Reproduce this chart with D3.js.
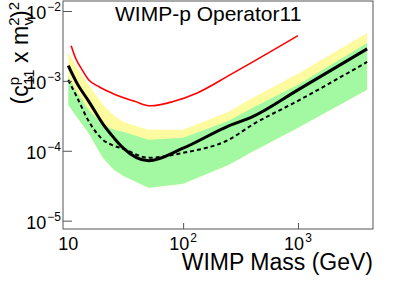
<!DOCTYPE html>
<html>
<head>
<meta charset="utf-8">
<script src="https://cdn.jsdelivr.net/npm/d3@7"></script>
<style>
  body { margin: 0; background: #fff; }
  text { font-family: "Liberation Sans", Arial, sans-serif; fill: #000; }
</style>
</head>
<body>
<script>
// WIMP masses (GeV) for the limit curves
var massPts = [10, 12, 15, 20, 25, 30, 50, 100, 250, 400, 1000, 4000];
// observed limit (solid black)
var observed = [1.65e-3, 9.06e-4, 5.18e-4, 2.43e-4, 1.53e-4, 1.10e-4, 7.2e-5, 1.09e-4, 2.28e-4, 3.06e-4, 7.44e-4, 2.87e-3];
// expected limit (dashed)
var expected = [1.03e-3, 5.71e-4, 2.68e-4, 1.44e-4, 1.18e-4, 1.07e-4, 7.94e-5, 9.36e-5, 1.44e-4, 2.35e-4, 5.18e-4, 1.87e-3];
// 1 sigma band
var sigma1Lo = [4.54e-4, 2.96e-4, 1.81e-4, 7.94e-5, 5.35e-5, 4.40e-5, 2.96e-5, 3.38e-5, 6.31e-5, 9.68e-5, 2.13e-4, 7.44e-4];
var sigma1Hi = [1.14e-3, 6.74e-4, 3.85e-4, 2.35e-4, 2.0e-4, 1.87e-4, 1.44e-4, 1.53e-4, 2.68e-4, 4.11e-4, 8.77e-4, 3.49e-3];
// 2 sigma band upper edge
var sigma2Hi = [2.60e-3, 1.53e-3, 8.77e-4, 4.54e-4, 3.16e-4, 2.60e-4, 2.0e-4, 2.0e-4, 3.61e-4, 5.71e-4, 1.26e-3, 4.85e-3];
// other experiment (red)
var redMass = [10.6, 11.6, 13.2, 15.1, 18.4, 24.1, 38.4, 51.8, 81.9, 131, 256, 1000];
var redLimit = [3.19e-3, 2.11e-3, 1.44e-3, 1.03e-3, 8.30e-4, 6.67e-4, 5.06e-4, 4.40e-4, 5.06e-4, 6.67e-4, 1.22e-3, 4.44e-3];

// tick labels
var yMajor = [1e-5, 1e-4, 1e-3, 1e-2];
var yExp = ["\u22125", "\u22124", "\u22123", "\u22122"];
var xMajor = [10, 100, 1000];
var xExp = ["", "2", "3"];

var w = 415, h = 281;
var frameL = 63, frameR = 373, frameT = 1, frameB = 229;

var svg = d3.select("body").append("svg")
    .attr("width", w)
    .attr("height", h);

var x = d3.scaleLog().domain([9, 4500]).range([frameL, frameR]);
var y = d3.scaleLog().domain([7.6e-6, 1.39e-2]).range([frameB, frameT]);

svg.append("clipPath").attr("id", "frame")
  .append("rect")
    .attr("x", frameL).attr("y", frameT)
    .attr("width", frameR - frameL).attr("height", frameB - frameT);

var plot = svg.append("g").attr("clip-path", "url(#frame)");

var idx = d3.range(massPts.length);

// yellow band
plot.append("path")
    .datum(idx)
    .attr("fill", "#fdfa9f")
    .attr("d", d3.area()
        .x(function(i) { return x(massPts[i]); })
        .y0(function(i) { return y(sigma1Lo[i]); })
        .y1(function(i) { return y(sigma2Hi[i]); }));

// green band
plot.append("path")
    .datum(idx)
    .attr("fill", "#a2f9a2")
    .attr("d", d3.area()
        .x(function(i) { return x(massPts[i]); })
        .y0(function(i) { return y(sigma1Lo[i]); })
        .y1(function(i) { return y(sigma1Hi[i]); }));

// red curve
plot.append("path")
    .datum(d3.range(redMass.length))
    .attr("fill", "none")
    .attr("stroke", "#ff0000")
    .attr("stroke-width", 1.6)
    .attr("d", d3.line()
        .curve(d3.curveMonotoneX)
        .x(function(i) { return x(redMass[i]); })
        .y(function(i) { return y(redLimit[i]); }));

// expected (dashed)
plot.append("path")
    .datum(idx)
    .attr("fill", "none")
    .attr("stroke", "#000")
    .attr("stroke-width", 2)
    .attr("stroke-dasharray", "4,3")
    .attr("d", d3.line()
        .curve(d3.curveMonotoneX)
        .x(function(i) { return x(massPts[i]); })
        .y(function(i) { return y(expected[i]); }));

// observed (solid)
plot.append("path")
    .datum(idx)
    .attr("fill", "none")
    .attr("stroke", "#000")
    .attr("stroke-width", 3)
    .attr("d", d3.line()
        .curve(d3.curveMonotoneX)
        .x(function(i) { return x(massPts[i]); })
        .y(function(i) { return y(observed[i]); }));

// frame
svg.append("rect")
    .attr("x", frameL).attr("y", frameT)
    .attr("width", frameR - frameL).attr("height", frameB - frameT)
    .attr("fill", "none")
    .attr("stroke", "#555")
    .attr("stroke-width", 1);

// y ticks (inside, ROOT style)
var yMinor = y.ticks().filter(function(v) { return yMajor.indexOf(v) < 0; });
var gy = svg.append("g").attr("transform", "translate(" + frameL + ",0)");
gy.call(d3.axisRight(y).tickValues(yMinor).tickSize(5).tickFormat(""));
gy.call(d3.axisRight(y).tickValues(yMajor).tickSize(9).tickFormat(""));
gy.selectAll(".domain").remove();
gy.selectAll("line").attr("stroke", "#555");

// x ticks
var xMinor = x.ticks().filter(function(v) { return xMajor.indexOf(v) < 0; });
var gx = svg.append("g").attr("transform", "translate(0," + frameB + ")");
gx.call(d3.axisTop(x).tickValues(xMinor).tickSize(3).tickFormat(""));
gx.call(d3.axisTop(x).tickValues([100, 1000]).tickSize(6).tickFormat(""));
gx.selectAll(".domain").remove();
gx.selectAll("line").attr("stroke", "#555");

// y tick labels
yMajor.forEach(function(v, i) {
  var t = svg.append("text")
      .attr("x", 61)
      .attr("y", y(v) + 8)
      .attr("text-anchor", "end")
      .style("font-size", "18px");
  t.append("tspan").text("10");
  t.append("tspan").attr("dx", 1).attr("dy", -8).style("font-size", "12px").text(yExp[i]);
});

// x tick labels
xMajor.forEach(function(v, i) {
  var t = svg.append("text")
      .attr("x", x(v))
      .attr("y", 250)
      .attr("text-anchor", "middle")
      .style("font-size", "18px");
  t.append("tspan").text("10");
  if (xExp[i]) t.append("tspan").attr("dx", 1).attr("dy", -8).style("font-size", "12px").text(xExp[i]);
});

// x title
svg.append("text")
    .attr("x", 373)
    .attr("y", 270)
    .attr("text-anchor", "end")
    .style("font-size", "23px")
    .text("WIMP Mass (GeV)");

// y title
var yt = svg.append("text")
    .attr("transform", "translate(28,2) rotate(-90)")
    .attr("text-anchor", "end")
    .style("font-size", "23px");
yt.append("tspan").text("(c");
yt.append("tspan").attr("dy", -9).style("font-size", "15px").text("p");
yt.append("tspan").attr("dx", -8).attr("dy", 15).style("font-size", "15px").text("11");
yt.append("tspan").attr("dy", -6).text(" x m");
yt.append("tspan").attr("dy", -9).style("font-size", "15px").text("2");
yt.append("tspan").attr("dx", -8).attr("dy", 14).style("font-size", "15px").text("v");
yt.append("tspan").attr("dy", -5).text(")");
yt.append("tspan").attr("dy", -9).style("font-size", "15px").text("2");

// title
svg.append("text")
    .attr("x", 115)
    .attr("y", 21)
    .style("font-size", "21px")
    .text("WIMP-p Operator11");
</script>
</body>
</html>
